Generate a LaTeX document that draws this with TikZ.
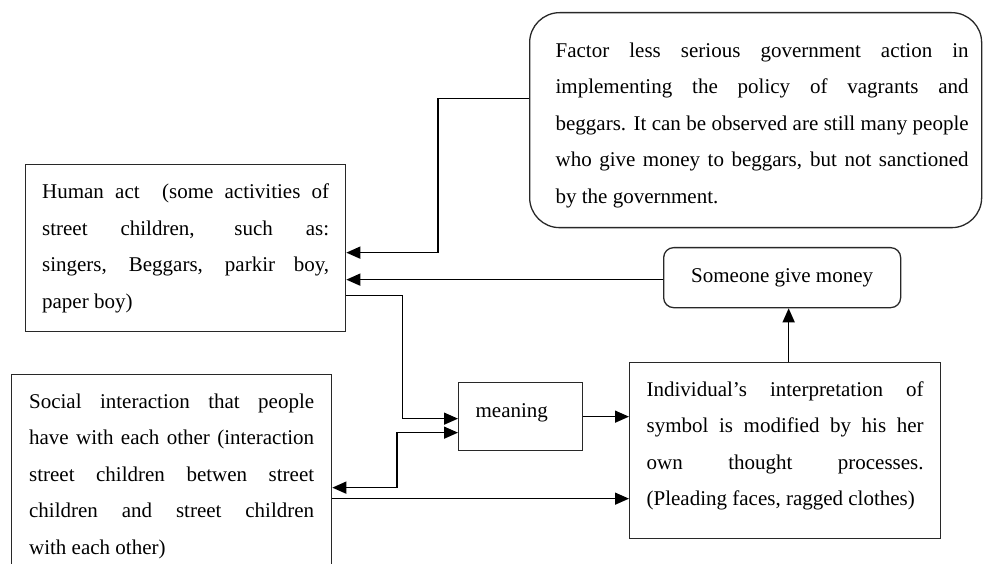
\documentclass[tikz,border=0pt]{standalone}
\usepackage{fontspec}
\setmainfont{Liberation Serif}
\usetikzlibrary{arrows.meta, positioning, calc}
\definecolor{boxline}{RGB}{40,40,40}

\tikzset{
  txtbox/.style={draw=boxline, line width=1.3pt, anchor=north west, align=justify,
    font=\fontsize{21}{36.5}\selectfont, inner ysep=0pt},
  flow/.style={draw=black, line width=1.5pt, ->},
}

\begin{document}
\begin{tikzpicture}[x=1pt, y=-1pt, >={Triangle[length=14pt,width=12pt]}]
  \useasboundingbox (0,0) rectangle (983,564);
  \clip (0,0) rectangle (983,564);

  \node[txtbox, rounded corners=30pt, inner xsep=13pt, text depth=140pt, minimum height=215pt] (factor) at (529,12)
    {\hspace*{13pt}\parbox[t]{413pt}{Factor less serious government action in\linebreak implementing the policy of vagrants and\linebreak beggars. It can be observed are still many people\linebreak who give money to beggars, but not sanctioned\linebreak by the government.}};

  \node[txtbox, text width=287pt, inner xsep=16.5pt, minimum height=167pt] (human) at (25,164)
    {Human act\ \ (some activities of\linebreak street children, such as:\linebreak singers, Beggars, parkir boy,\linebreak paper boy)};

  \node[txtbox, align=center, rounded corners=10pt, minimum width=237pt, minimum height=60pt] (money) at (663,247)
    {Someone give money};

  \node[txtbox, align=left, text width=90pt, inner xsep=17pt, text depth=12.5pt, minimum height=68pt] (meaning) at (458,382)
    {meaning};

  \node[txtbox, text width=277pt, inner xsep=17pt, text depth=124pt, minimum height=176pt] (indiv) at (629,362)
    {Individual’s interpretation of\linebreak symbol is modified by his her\linebreak own thought processes.\linebreak (Pleading faces, ragged clothes)};

  \node[txtbox, text width=285pt, inner xsep=17.5pt, minimum height=203pt] (social) at (11,374)
    {Social interaction that people\linebreak have with each other (interaction\linebreak street children betwen street\linebreak children and street children\linebreak with each other)};

  % connectors
  \draw[flow] ([yshift=21.5pt]factor.west) -- ++(-91,0) |- ([yshift=-4.5pt]human.east);
  \draw[flow] ([yshift=-2pt]money.west) -- ($(human.east |- money.west)+(0,2)$);
  \draw[flow] ([yshift=-47.5pt]human.east) -- ++(56,0) |- ([yshift=-2pt]meaning.west);
  \draw[flow, <->] ([yshift=-16pt]meaning.west) -- ++(-61,0) |- ([yshift=-11.5pt]social.east);
  \draw[flow] (meaning.east) -- (meaning.east -| indiv.west);
  \draw[flow] ([yshift=-22.5pt]social.east) -- ($(indiv.west |- social.east)+(0,22.5)$);
  \draw[flow] ([xshift=3.5pt]indiv.north) -- ($(indiv.north |- money.south)+(3.5,0)$);
\end{tikzpicture}
\end{document}
